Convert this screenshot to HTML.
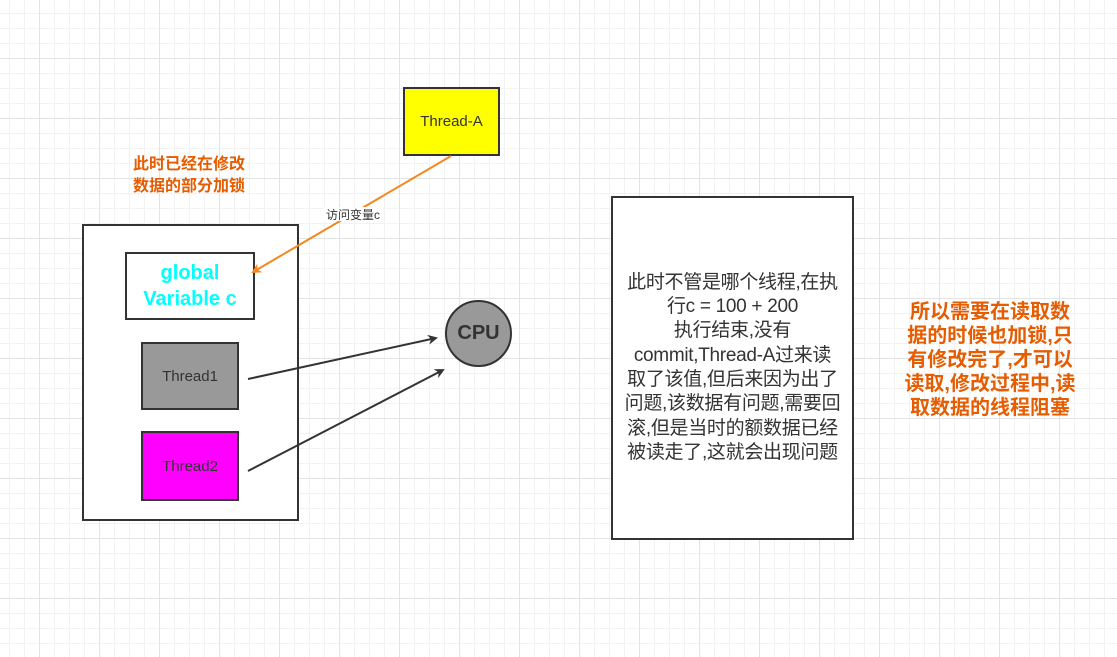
<!DOCTYPE html>
<html><head><meta charset="utf-8"><style>
body{margin:0;width:1117px;height:657px;overflow:hidden;background:#fff;
background-image:linear-gradient(#e3e3e3 1px,transparent 1px),linear-gradient(90deg,#e3e3e3 1px,transparent 1px),linear-gradient(#f2f2f2 1px,transparent 1px),linear-gradient(90deg,#f2f2f2 1px,transparent 1px);
background-size:60px 60px,60px 60px,15px 15px,15px 15px;background-position:0 58px,39px 0,0 13px,9px 0;
font-family:"Liberation Sans","Noto Sans CJK SC",sans-serif;position:relative}
.a{position:absolute;box-sizing:border-box}
.c{display:flex;align-items:center;justify-content:center;text-align:center}
</style></head><body>
<div class="a" style="left:133px;top:154px;width:130px;color:#e65c00;font-weight:bold;font-size:16px;line-height:22px;white-space:nowrap">此时已经在修改<br>数据的部分加锁</div>
<div class="a c" style="left:403px;top:87px;width:97px;height:69px;background:#ff0;border:2px solid #333;font-size:15px;color:#333">Thread-A</div>
<div class="a" style="left:82px;top:224px;width:217px;height:297px;border:2px solid #333;background:#fff"></div>
<div class="a c" style="left:125px;top:252px;width:130px;height:68px;border:2px solid #333;background:#fff;color:#0ff;font-size:20px;font-weight:bold;line-height:26px">global<br>Variable c</div>
<div class="a c" style="left:141px;top:342px;width:98px;height:68px;border:2px solid #333;background:#999;font-size:15px;color:#333">Thread1</div>
<div class="a c" style="left:141px;top:431px;width:98px;height:70px;border:2px solid #333;background:#f0f;font-size:15px;color:#333">Thread2</div>
<div class="a c" style="left:445px;top:300px;width:67px;height:67px;border-radius:50%;border:2px solid #333;background:#999;font-size:20px;font-weight:bold;color:#333">CPU</div>
<div class="a c" style="left:611px;top:196px;width:243px;height:344px;border:2px solid #333;background:#fff;font-size:19px;line-height:24.3px;color:#333;white-space:nowrap;letter-spacing:-0.3px">此时不管是哪个线程,在执<br>行c = 100 + 200<br>执行结束,没有<br>commit,Thread-A过来读<br>取了该值,但后来因为出了<br>问题,该数据有问题,需要回<br>滚,但是当时的额数据已经<br>被读走了,这就会出现问题</div>
<div class="a" style="left:890px;top:300px;width:200px;text-align:center;color:#e65c00;font-weight:bold;font-size:20px;line-height:24px;white-space:nowrap">所以需要在读取数<br>据的时候也加锁,只<br>有修改完了,才可以<br>读取,修改过程中,读<br>取数据的线程阻塞</div>
<svg class="a" style="left:0;top:0" width="1117" height="657">
<defs><marker id="o" markerWidth="10" markerHeight="10" refX="8" refY="5" orient="auto" markerUnits="userSpaceOnUse"><path d="M0,0L10,5L0,10L3,5z" fill="#f5871f"/></marker>
<marker id="k" markerWidth="10" markerHeight="10" refX="8" refY="5" orient="auto" markerUnits="userSpaceOnUse"><path d="M0,0L10,5L0,10L3,5z" fill="#333"/></marker></defs>
<line x1="451" y1="156" x2="253" y2="272" stroke="#f5871f" stroke-width="2" marker-end="url(#o)"/>
<line x1="248" y1="379" x2="436" y2="338" stroke="#333" stroke-width="2" marker-end="url(#k)"/>
<line x1="248" y1="471" x2="443" y2="370" stroke="#333" stroke-width="2" marker-end="url(#k)"/>
<rect x="323" y="207" width="60" height="14" fill="#fff"/>
<text x="353" y="219" font-size="12" text-anchor="middle" fill="#333" font-family="Liberation Sans,Noto Sans CJK SC,sans-serif">访问变量c</text>
</svg>
</body></html>
